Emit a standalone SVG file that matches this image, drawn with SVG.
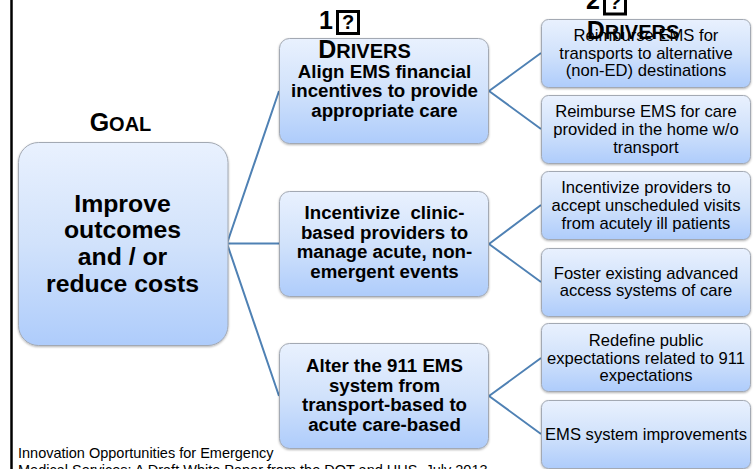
<svg xmlns="http://www.w3.org/2000/svg" width="755" height="469" viewBox="0 0 755 469">
<style>
text{font-family:"Liberation Sans",Arial,sans-serif;fill:#000;text-anchor:middle}
.box{fill:url(#g);stroke:#a3a9b3;stroke-width:1;filter:url(#s)}
.b{font-weight:700;font-size:18.7px}
.n{font-size:16.6px}
.g{font-weight:700;font-size:24.8px}
.h{font-weight:700;font-size:25px}
.h tspan{font-size:20px}
.c{fill:none;stroke:#4f81b4;stroke-width:2}
.q{fill:none;stroke:#000;stroke-width:3}
.k{font-weight:700;font-size:20px}
.s{text-anchor:start;font-size:14.500px}
</style>
<defs>
<linearGradient id="g" x1="0" y1="0" x2="0" y2="1"><stop offset="0" stop-color="#e9f1fe"/><stop offset=".5" stop-color="#d1e2fb"/><stop offset="1" stop-color="#aeccfb"/></linearGradient>
<filter id="s" x="-5%" y="-5%" width="110%" height="112%"><feDropShadow dx="0" dy="1" stdDeviation="1" flood-color="#000" flood-opacity=".3"/></filter>
</defs>
<rect width="755" height="469" fill="#fff"/>
<path id="frame" d="M11.500 0V469" stroke="#000" stroke-width="2.500" fill="none"/>
<g id="connectors">
<path class="c" d="M227 243.500L279 91M227 243.500H279M227 243.500L279 396"/>
<path class="c" d="M489 91L541 53M489 91L541 129"/>
<path class="c" d="M489 244L541 205M489 244L541 282"/>
<path class="c" d="M489 396L541 358M489 396L541 434"/>
</g>
<g id="goal"><rect class="box" x="18.500" y="142.500" width="209.500" height="203" rx="20"/>
<text class="g" x="122.500" y="212">Improve</text>
<text class="g" x="122.500" y="238">outcomes</text>
<text class="g" x="122.500" y="265">and / or</text>
<text class="g" x="122.500" y="292">reduce costs</text></g>
<g id="driver1"><rect class="box" x="279.500" y="38.500" width="209" height="105" rx="10"/>
<text class="b" x="384.500" y="78">Align EMS financial</text>
<text class="b" x="384.500" y="97">incentives to provide</text>
<text class="b" x="384.500" y="117">appropriate care</text></g>
<g id="driver2"><rect class="box" x="279.500" y="191.500" width="209" height="105" rx="10"/>
<text class="b" x="384.500" y="219" xml:space="preserve">Incentivize  clinic-</text>
<text class="b" x="384.500" y="239">based providers to</text>
<text class="b" x="384.500" y="258">manage acute, non-</text>
<text class="b" x="384.500" y="278">emergent events</text></g>
<g id="driver3"><rect class="box" x="279.500" y="343.500" width="209" height="105" rx="10"/>
<text class="b" x="384.500" y="372">Alter the 911 EMS</text>
<text class="b" x="384.500" y="392">system from</text>
<text class="b" x="384.500" y="411">transport-based to</text>
<text class="b" x="384.500" y="431">acute care-based</text></g>
<g id="sub1"><rect class="box" x="541.500" y="19.500" width="209" height="68" rx="7"/>
<text class="n" x="646" y="41">Reimburse EMS for</text>
<text class="n" x="646" y="59">transports to alternative</text>
<text class="n" x="646" y="76">(non-ED) destinations</text></g>
<g id="sub2"><rect class="box" x="541.500" y="95.500" width="209" height="68" rx="7"/>
<text class="n" x="646" y="117">Reimburse EMS for care</text>
<text class="n" x="646" y="135">provided in the home w/o</text>
<text class="n" x="646" y="153">transport</text></g>
<g id="sub3"><rect class="box" x="541.500" y="171.500" width="209" height="68" rx="7"/>
<text class="n" x="646" y="193">Incentivize providers to</text>
<text class="n" x="646" y="211">accept unscheduled visits</text>
<text class="n" x="646" y="229">from acutely ill patients</text></g>
<g id="sub4"><rect class="box" x="541.500" y="248.500" width="209" height="68" rx="7"/>
<text class="n" x="646" y="279">Foster existing advanced</text>
<text class="n" x="646" y="296">access systems of care</text></g>
<g id="sub5"><rect class="box" x="541.500" y="323.500" width="209" height="68" rx="7"/>
<text class="n" x="646" y="346">Redefine public</text>
<text class="n" x="646" y="364">expectations related to 911</text>
<text class="n" x="646" y="381">expectations</text></g>
<g id="sub6"><rect class="box" x="541.500" y="400.500" width="209" height="68" rx="7"/>
<text class="n" x="646" y="440">EMS system improvements</text></g>
<g id="label-goal"><text class="h" x="120.500" y="131">G<tspan>OAL</tspan></text></g>
<g id="label-drivers1"><text x="326" y="29" style="font-weight:700;font-size:25px">1</text>
<rect class="q" x="337.500" y="11.500" width="21" height="22"/>
<text class="k" x="348" y="29">?</text>
<text class="h" x="364.500" y="58">D<tspan>RIVERS</tspan></text></g>
<g id="label-drivers2"><text x="593" y="9" style="font-weight:700;font-size:25px">2</text>
<rect class="q" x="604.500" y="-8" width="21" height="22"/>
<text class="k" x="615" y="9">?</text>
<text class="h" x="633" y="39">D<tspan>RIVERS</tspan></text></g>
<g id="source"><text class="s" x="18" y="458">Innovation Opportunities for Emergency</text>
<text class="s" x="18" y="475">Medical Services: A Draft White Paper from the DOT and HHS, July 2013</text></g>
</svg>
